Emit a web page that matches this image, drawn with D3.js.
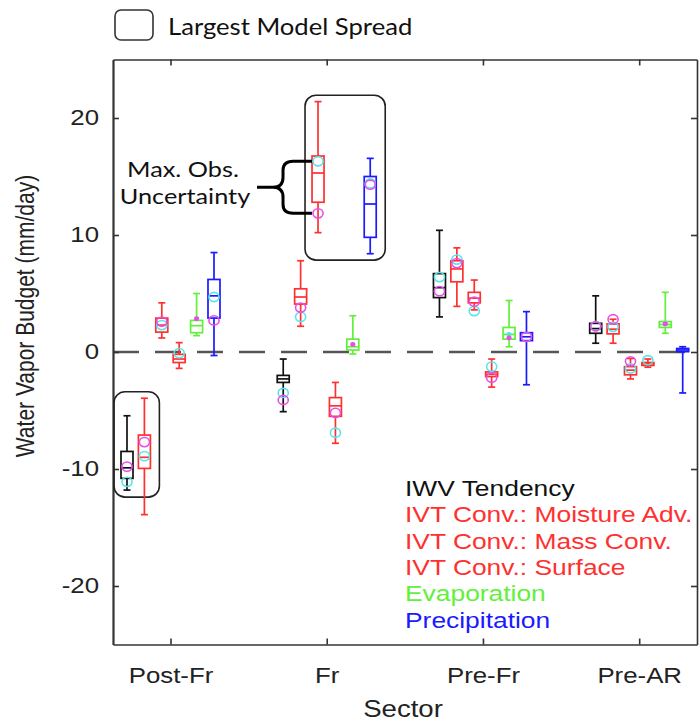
<!DOCTYPE html>
<html>
<head>
<meta charset="utf-8">
<script src="https://cdn.jsdelivr.net/npm/d3@7"></script>
<style>
  body { margin: 0; background: #fff; }
  svg { display: block; }
</style>
</head>
<body>
<div id="chart"></div>
<script>
// ---------- data ----------
var sectors = ["Post-Fr", "Fr", "Pre-Fr", "Pre-AR"];
var seriesNames = ["IWV Tendency", "IVT Conv.: Moisture Adv.", "IVT Conv.: Mass Conv.",
                   "IVT Conv.: Surface", "Evaporation", "Precipitation"];
var seriesColors = ["#111111", "#ff3030", "#ff3030", "#ff3030", "#62f03a", "#1a1aff"];
var yTicks = [-20, -10, 0, 10, 20];

// box statistics, [series][sector]
var whiskerLow = [
  [-11.8, -5.1, 3.0, 0.75],
  [-13.9, 2.2, 3.9, 0.75],
  [1.2, 10.2, 3.6, -2.3],
  [-1.4, -7.8, -3.0, -1.3],
  [1.4, -0.17, 0.45, 1.6],
  [-0.3, 8.4, -2.8, -3.5]
];
var quart1 = [
  [-10.8, -2.6, 4.65, 1.6],
  [-9.95, 4.1, 6.0, 1.55],
  [1.7, 12.8, 4.2, -1.95],
  [-0.9, -5.5, -2.1, -1.15],
  [1.65, 0.17, 1.1, 2.1],
  [2.9, 9.8, 0.97, 0.03]
];
var medians = [
  [-9.9, -2.3, 5.5, 2.0],
  [-9.0, 4.7, 7.1, 1.95],
  [2.3, 15.3, 4.6, -1.55],
  [-0.6, -4.6, -1.9, -1.0],
  [2.25, 0.45, 1.5, 2.35],
  [4.8, 12.65, 1.3, 0.17]
];
var quart3 = [
  [-8.5, -2.0, 6.7, 2.45],
  [-7.1, 5.4, 7.8, 2.4],
  [2.9, 16.75, 5.1, -1.25],
  [-0.2, -3.9, -1.7, -0.9],
  [2.7, 1.1, 2.1, 2.6],
  [6.2, 15.0, 1.65, 0.3]
];
var whiskerHigh = [
  [-5.45, -0.6, 10.4, 4.8],
  [-3.95, 7.8, 8.9, 2.8],
  [4.2, 21.4, 6.15, -0.55],
  [0.8, -2.6, -0.6, -0.6],
  [5.0, 3.1, 4.4, 5.1],
  [8.5, 16.55, 3.45, 0.45]
];
// observations (two data sets), [series][sector]
var obsMagenta = [
  [-9.8, -4.1, 5.2, 2.2],
  [-7.7, 3.8, 7.6, 2.8],
  [2.6, 11.85, 4.3, -0.8],
  [null, -5.2, -2.2, null],
  [2.85, 0.65, 1.2, 2.4],
  [2.7, 14.3, 1.3, null]
];
var obsCyan = [
  [-11.1, -3.5, 6.4, 2.2],
  [-8.9, 3.0, 7.9, 2.15],
  [2.3, 16.3, 3.5, -1.4],
  [-0.1, -6.9, -1.25, -0.7],
  [null, null, 1.5, 2.4],
  [4.7, 14.4, null, null]
];
// largest model spread frames: sector, first/last series, value extent
var spreadSectors = [0, 1];
var spreadSeries = [[0, 1], [2, 5]];
var spreadTop = [-3.4, 21.95];
var spreadBottom = [-12.4, 7.85];

function renderBoxChart() {
  var attrs = {
    svgWidth: 700,
    svgHeight: 723,
    marginTop: 59.5,
    marginBottom: 78.5,
    marginLeft: 113,
    marginRight: 3,
    stretch: 1.2,           // figure is stretched horizontally
    noteStretch: 1.15,
    seriesStep: 17.4,
    boxWidth: 12,
    capWidth: 7,
    axisColor: '#333',
    container: '#chart'
  };

  var calc = {};
  calc.chartWidth = attrs.svgWidth - attrs.marginLeft - attrs.marginRight;
  calc.chartHeight = attrs.svgHeight - attrs.marginTop - attrs.marginBottom;

  var x = d3.scaleLinear().domain([0.632, 4.37]).range([0, calc.chartWidth]);
  var y = d3.scaleLinear().domain([-25, 25]).range([calc.chartHeight, 0]);

  function cx(i, j) {
    return x(j + 1) + (i - 2.5) * attrs.seriesStep;
  }
  function stretchText(sel, px, py, rot, s) {
    sel.attr('transform', 'translate(' + px + ',' + py + ') scale(' + (s || attrs.stretch) + ',1)' + (rot ? ' rotate(' + rot + ')' : ''));
  }

  var svg = d3.select(attrs.container).append('svg')
    .attr('width', attrs.svgWidth)
    .attr('height', attrs.svgHeight)
    .style('font-family', '"Liberation Sans", Arial, sans-serif');

  var chart = svg.append('g')
    .attr('transform', 'translate(' + attrs.marginLeft + ',' + attrs.marginTop + ')');

  // zero line
  chart.append('line')
    .attr('x1', 0).attr('x2', calc.chartWidth)
    .attr('y1', y(0)).attr('y2', y(0))
    .attr('stroke', '#555').attr('stroke-width', 2.5)
    .attr('stroke-dasharray', '26,16');

  // ####### axes #######
  var left = chart.append('g').call(d3.axisLeft(y).tickValues(yTicks).tickSize(-6).tickSizeOuter(0).tickPadding(14)
    .tickFormat(function (d) { return String(d); }));
  var right = chart.append('g').attr('transform', 'translate(' + calc.chartWidth + ',0)')
    .call(d3.axisRight(y).tickValues(yTicks).tickSize(-6).tickSizeOuter(0).tickFormat(''));
  var bottom = chart.append('g').attr('transform', 'translate(0,' + calc.chartHeight + ')')
    .call(d3.axisBottom(x).tickValues([1, 2, 3, 4]).tickSize(-6).tickSizeOuter(0).tickPadding(23)
      .tickFormat(function (d) { return sectors[d - 1]; }));
  var top = chart.append('g')
    .call(d3.axisTop(x).tickValues([1, 2, 3, 4]).tickSize(-6).tickSizeOuter(0).tickFormat(''));

  [left, right, bottom, top].forEach(function (g) {
    g.selectAll('path, line').attr('stroke', attrs.axisColor).attr('stroke-width', 1.6);
    g.selectAll('text').attr('fill', '#222').style('font-size', '21.5px')
      .style('font-family', '"Liberation Sans", Arial, sans-serif');
  });
  left.select('.domain').attr('stroke-width', 2.2);
  left.selectAll('text').each(function () {
    var t = d3.select(this);
    var px = +t.attr('x');
    t.attr('x', null);
    t.attr('transform', 'translate(' + px + ',0) scale(' + attrs.stretch + ',1)');
  });
  bottom.selectAll('text').attr('transform', 'scale(' + attrs.stretch + ',1)');

  // axis titles
  chart.append('text')
    .attr('text-anchor', 'middle').style('font-size', '21px').attr('fill', '#222')
    .text('Water Vapor Budget (mm/day)')
    .call(stretchText, 27 - attrs.marginLeft + 7, 316 - attrs.marginTop, -90);
  chart.append('text')
    .attr('text-anchor', 'middle').style('font-size', '23px').attr('fill', '#222')
    .text('Sector')
    .call(stretchText, 403 - attrs.marginLeft, 717 - attrs.marginTop);

  // ####### largest model spread frames #######
  spreadSectors.forEach(function (j, k) {
    var ser = spreadSeries[k];
    var x0 = cx(ser[0], j) - 13;
    var x1 = cx(ser[ser.length - 1], j) + 15;
    chart.append('rect')
      .attr('x', x0).attr('y', y(spreadTop[k]))
      .attr('width', x1 - x0).attr('height', y(spreadBottom[k]) - y(spreadTop[k]))
      .attr('rx', 11).attr('ry', 11)
      .attr('fill', 'none').attr('stroke', '#222').attr('stroke-width', 1.6);
  });

  // ####### boxes #######
  var boxData = [];
  seriesNames.forEach(function (name, i) {
    sectors.forEach(function (s, j) {
      boxData.push({ i: i, j: j, lo: whiskerLow[i][j], q1: quart1[i][j], med: medians[i][j],
        q3: quart3[i][j], hi: whiskerHigh[i][j], mag: obsMagenta[i][j], cyan: obsCyan[i][j] });
    });
  });

  var boxes = chart.selectAll('.box').data(boxData).enter().append('g')
    .attr('class', 'box')
    .attr('transform', function (d) { return 'translate(' + cx(d.i, d.j) + ',0)'; })
    .attr('stroke', function (d) { return seriesColors[d.i]; })
    .attr('stroke-width', 1.7)
    .attr('fill', 'none');

  boxes.append('line').attr('x1', 0).attr('x2', 0)
    .attr('y1', function (d) { return y(d.hi); }).attr('y2', function (d) { return y(d.lo); });
  boxes.append('line').attr('x1', -attrs.capWidth / 2).attr('x2', attrs.capWidth / 2)
    .attr('y1', function (d) { return y(d.hi); }).attr('y2', function (d) { return y(d.hi); });
  boxes.append('line').attr('x1', -attrs.capWidth / 2).attr('x2', attrs.capWidth / 2)
    .attr('y1', function (d) { return y(d.lo); }).attr('y2', function (d) { return y(d.lo); });
  boxes.append('rect')
    .attr('x', -attrs.boxWidth / 2).attr('width', attrs.boxWidth)
    .attr('y', function (d) { return y(d.q3); })
    .attr('height', function (d) { return y(d.q1) - y(d.q3); })
    .attr('fill', '#fff');
  boxes.append('line').attr('x1', -attrs.boxWidth / 2).attr('x2', attrs.boxWidth / 2)
    .attr('y1', function (d) { return y(d.med); }).attr('y2', function (d) { return y(d.med); });

  // observation markers
  var markerR = function (d) { return d.i === 4 ? 1.6 : 4.6; };
  boxes.filter(function (d) { return d.cyan !== null; }).append('ellipse')
    .attr('cx', 0).attr('cy', function (d) { return y(d.cyan); })
    .attr('rx', function (d) { return markerR(d) * 1.1; }).attr('ry', markerR)
    .attr('stroke', '#55e6ea').attr('stroke-width', 1.6).attr('fill', 'none');
  boxes.filter(function (d) { return d.mag !== null; }).append('ellipse')
    .attr('cx', 0).attr('cy', function (d) { return y(d.mag); })
    .attr('rx', function (d) { return markerR(d) * 1.1; }).attr('ry', markerR)
    .attr('stroke', '#e84ee8').attr('stroke-width', 1.6)
    .attr('fill', function (d) { return d.i === 4 ? '#e84ee8' : 'none'; });

  // ####### annotation: Max. Obs. Uncertainty #######
  var bx = cx(2, 1) - attrs.boxWidth / 2;
  var yTop = y(obsCyan[2][1]);
  var yBot = y(obsMagenta[2][1]);
  var yMid = (yTop + yBot) / 2;
  var braceX = bx - 29;
  var tipX = bx - 55;
  chart.append('path')
    .attr('d', 'M' + tipX + ',' + yMid + ' L' + (braceX - 10) + ',' + yMid +
      ' Q' + braceX + ',' + yMid + ' ' + braceX + ',' + (yMid - 10) +
      ' L' + braceX + ',' + (yTop + 9) + ' Q' + braceX + ',' + yTop + ' ' + (braceX + 10) + ',' + yTop +
      ' L' + bx + ',' + yTop +
      ' M' + (braceX - 10) + ',' + yMid + ' Q' + braceX + ',' + yMid + ' ' + braceX + ',' + (yMid + 10) +
      ' L' + braceX + ',' + (yBot - 9) + ' Q' + braceX + ',' + yBot + ' ' + (braceX + 10) + ',' + yBot +
      ' L' + bx + ',' + yBot)
    .attr('fill', 'none').attr('stroke', '#000').attr('stroke-width', 3);

  var note = chart.append('g').style('font-family', 'Lato, "Open Sans", sans-serif')
    .style('font-size', '22px').attr('fill', '#111').attr('text-anchor', 'middle');
  note.append('text').text('Max. Obs.').call(stretchText, 183 - attrs.marginLeft, 176.5 - attrs.marginTop, 0, attrs.noteStretch);
  note.append('text').text('Uncertainty').call(stretchText, 185 - attrs.marginLeft, 203.5 - attrs.marginTop, 0, attrs.noteStretch);

  // ####### legends #######
  var legend = chart.append('g').style('font-size', '22px');
  legend.selectAll('text').data(seriesNames).enter().append('text')
    .attr('fill', function (d, i) { return seriesColors[i]; })
    .text(function (d) { return d; })
    .each(function (d, i) {
      d3.select(this).call(stretchText, 405 - attrs.marginLeft, 496 + i * 26.3 - attrs.marginTop);
    });

  svg.append('rect')
    .attr('x', 115).attr('y', 10).attr('width', 38).attr('height', 30)
    .attr('rx', 6).attr('fill', 'none').attr('stroke', '#333').attr('stroke-width', 1.6);
  svg.append('text')
    .style('font-family', 'Lato, "Open Sans", sans-serif').style('font-size', '22.3px')
    .attr('fill', '#111').text('Largest Model Spread')
    .call(stretchText, 168, 35, 0, attrs.noteStretch);
}

renderBoxChart();
</script>
</body>
</html>
